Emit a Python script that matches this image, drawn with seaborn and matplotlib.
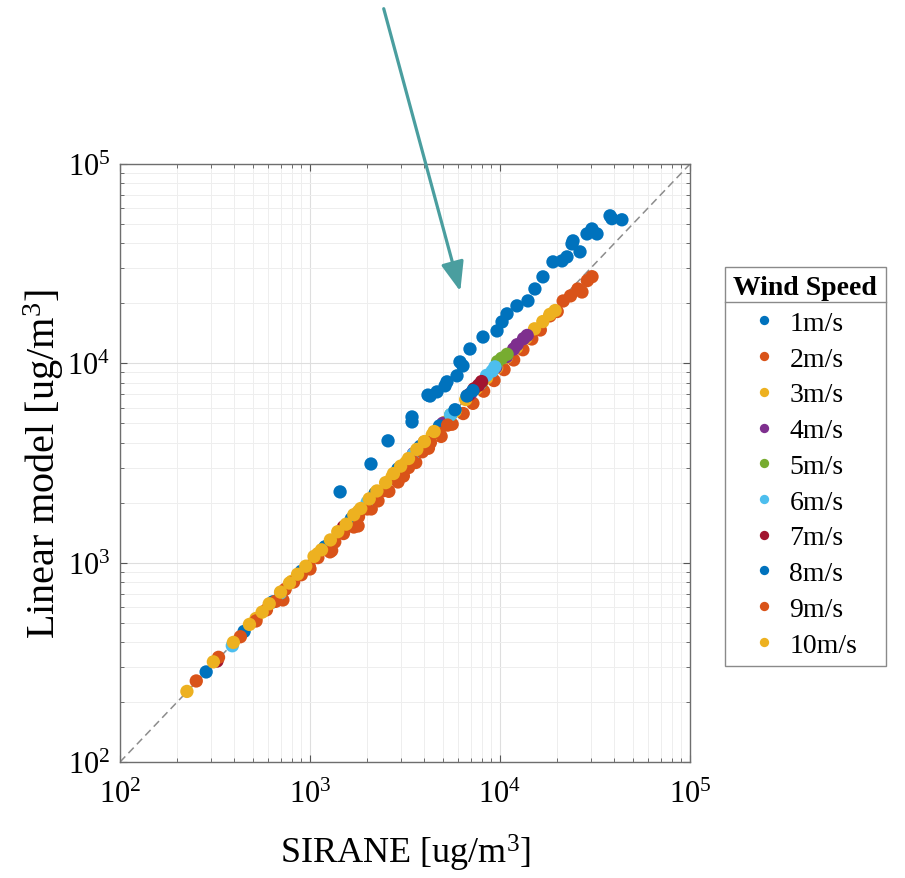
import numpy as np
import pandas as pd
import seaborn as sns
import matplotlib.pyplot as plt
from matplotlib.lines import Line2D

# wind speed classes and MATLAB default colour order
speeds = ['1m/s', '2m/s', '3m/s', '4m/s', '5m/s', '6m/s', '7m/s', '8m/s', '9m/s', '10m/s']
colors = ['#0072BD', '#D95319', '#EDB120', '#7E2F8E', '#77AC30',
          '#4DBEEE', '#A2142F', '#0072BD', '#D95319', '#EDB120']

# SIRANE (x) vs linear model (y) concentrations, ug/m3
sirane_1 = [1440, 2094, 2575, 3443, 3443, 4178, 4660, 4285, 5140, 5260, 5940, 6155,
            6385, 6950, 8140, 9645, 10250, 10890, 12280, 14030, 15270, 16830, 19000,
            21200, 22520, 26370, 23930, 24230, 28700, 30480, 32400, 37950, 38810, 43820]
linear_1 = [2265, 3126, 4085, 5383, 5082, 6930, 7190, 6855, 7710, 8075, 8655, 10160,
            9705, 11800, 13550, 14540, 16140, 17710, 19420, 20570, 23610, 27150, 32280,
            32650, 34200, 36240, 39720, 41140, 44580, 47220, 44580, 54950, 53180, 52500]

sirane_2 = [720, 1000, 1300, 1700, 2100, 2600, 3100, 3600, 4200, 4900, 5600, 6400, 7200,
            8200, 9300, 10500, 11800, 13200, 14700, 16300, 18300, 20000, 21500, 23500,
            25700, 27000, 28800, 30500]
linear_2 = [650, 930, 1150, 1510, 1860, 2280, 2720, 3180, 3750, 4300, 4950, 5600, 6300,
            7250, 8200, 9300, 10400, 11700, 13250, 14700, 17300, 18200, 20550, 21800,
            23600, 22800, 26000, 27200]

sirane_3 = [520, 800, 1100, 1450, 1800, 2200, 2700, 3200, 3800, 4400, 5100, 5800, 6600,
            7500, 8500, 9600, 10800, 12200, 13700, 15200, 16800, 18300, 19500]
linear_3 = [525, 805, 1110, 1440, 1810, 2230, 2690, 3180, 3790, 4380, 5050, 5750, 6580,
            7480, 8450, 9500, 10700, 12000, 13400, 14900, 16200, 17600, 18400]

sirane_4 = [3500, 5000, 7000, 9500, 10800, 11800, 12300, 13300, 13900]
linear_4 = [3520, 5000, 7050, 9550, 10800, 11800, 12400, 13300, 13800]

sirane_5 = [3000, 5500, 8000, 9700, 10200, 10900]
linear_5 = [3010, 5520, 8040, 10200, 10600, 11100]

sirane_6 = [390, 700, 1200, 2000, 3500, 5500, 7800, 8500, 9100, 9400]
linear_6 = [383, 705, 1200, 2010, 3500, 5520, 7850, 8700, 9150, 9600]

sirane_7 = [324, 1500, 4000, 6800, 7300, 7700, 8000]
linear_7 = [321, 1510, 4020, 6900, 7450, 7750, 8100]

sirane_8 = [284, 450, 638, 900, 1200, 1650, 2200, 2900, 3800, 4800, 5800, 6700, 7200]
linear_8 = [283, 452, 636, 905, 1200, 1660, 2220, 2950, 3830, 4850, 5850, 6860, 7300]

sirane_9 = [252, 330, 430, 520, 590, 660, 740, 820, 900, 990, 1100, 1274, 1350, 1500,
            1791, 1800, 2000, 2280, 2450, 2904, 3000, 3300, 3500, 3900, 4300, 4800, 5300]
linear_9 = [255, 335, 425, 510, 580, 640, 735, 800, 870, 960, 1060, 1133, 1270, 1400,
            1528, 1700, 1860, 2042, 2300, 2540, 2750, 3000, 3200, 3600, 4000, 4450, 4900]

sirane_10 = [225, 310, 395, 480, 560, 610, 700, 780, 860, 950, 1050, 1150, 1280, 1400,
             1550, 1700, 1850, 2050, 2250, 2500, 2750, 3000, 3300, 3650, 4000, 4500]
linear_10 = [226, 318, 398, 490, 565, 622, 712, 790, 875, 960, 1075, 1160, 1300, 1430,
             1560, 1740, 1870, 2090, 2290, 2520, 2800, 3050, 3330, 3700, 4050, 4550]

sirane_all = [sirane_1, sirane_2, sirane_3, sirane_4, sirane_5,
              sirane_6, sirane_7, sirane_8, sirane_9, sirane_10]
linear_all = [linear_1, linear_2, linear_3, linear_4, linear_5,
              linear_6, linear_7, linear_8, linear_9, linear_10]

frames = []
for lab, xs, ys in zip(speeds, sirane_all, linear_all):
    frames.append(pd.DataFrame({'SIRANE': xs, 'Linear': ys, 'Wind Speed': lab}))
df = pd.concat(frames, ignore_index=True)

plt.rcParams['font.family'] = 'Liberation Serif'
plt.rcParams['mathtext.fontset'] = 'custom'
plt.rcParams['mathtext.rm'] = 'Liberation Serif'
plt.rcParams['mathtext.it'] = 'Liberation Serif:italic'
plt.rcParams['mathtext.bf'] = 'Liberation Serif:bold'

fig = plt.figure(figsize=(9.05, 8.79), dpi=100)
ax = fig.add_axes([120 / 905, 116 / 879, 570 / 905, 598 / 879])

# 1:1 line
ax.plot([1e2, 1e5], [1e2, 1e5], ls=(0, (5, 3)), color='#8c8c8c', lw=1.1, zorder=1)

pal = dict(zip(speeds, colors))
sns.scatterplot(data=df, x='SIRANE', y='Linear', hue='Wind Speed', hue_order=speeds,
                palette=pal, s=92, linewidth=0, ax=ax, zorder=3)

ax.set_xscale('log')
ax.set_yscale('log')
ax.set_xlim(1e2, 1e5)
ax.set_ylim(1e2, 1e5)

ax.grid(True, which='major', color='#dedede', lw=0.8)
ax.grid(True, which='minor', color='#eeeeee', lw=0.7)
ax.set_axisbelow(True)
ax.tick_params(which='both', direction='in', top=True, right=True, color='#555555')
ax.tick_params(which='major', length=5, labelsize=22)
ax.tick_params(axis='x', which='major', pad=13)
ax.tick_params(axis='y', which='major', pad=7)
ax.tick_params(which='minor', length=3)
for sp in ax.spines.values():
    sp.set_color('#6e6e6e')
    sp.set_linewidth(1.0)

ax.set_xlabel('SIRANE [ug/m$^3$]', fontsize=26, labelpad=16)
ax.set_ylabel('Linear model [ug/m$^3$]', fontsize=29, labelpad=1)

handles, labs = ax.get_legend_handles_labels()
leg = ax.legend(handles, labs, title='Wind Speed', loc='upper left',
                bbox_to_anchor=(725 / 905, 1 - 268 / 879), bbox_transform=fig.transFigure,
                borderaxespad=0, fontsize=20, title_fontsize=20, frameon=True,
                fancybox=False, edgecolor='#8a8a8a', framealpha=1,
                handlelength=0.8, handletextpad=0.5, labelspacing=0.37,
                markerscale=0.7, borderpad=0.3)
leg.get_title().set_fontweight('bold')
leg.get_frame().set_linewidth(1.0)

# separator under legend title
fig.canvas.draw()
lb = leg.get_window_extent()
tb = leg.get_title().get_window_extent()
yline = (tb.y0 - 2) / fig.bbox.height
fig.add_artist(Line2D([lb.x0 / fig.bbox.width, lb.x1 / fig.bbox.width], [yline, yline],
                      color='#8a8a8a', lw=1.0, transform=fig.transFigure))

# arrow pointing at the 1 m/s branch
ax.annotate('', xy=(461, 879 - 295), xycoords='figure pixels',
            xytext=(383, 879 - 7), textcoords='figure pixels',
            arrowprops=dict(arrowstyle='-|>,head_length=0.9,head_width=0.35',
                            color='#4a9e9f', lw=2.3, mutation_scale=20),
            annotation_clip=False)

plt.savefig('out.png', dpi=100)
